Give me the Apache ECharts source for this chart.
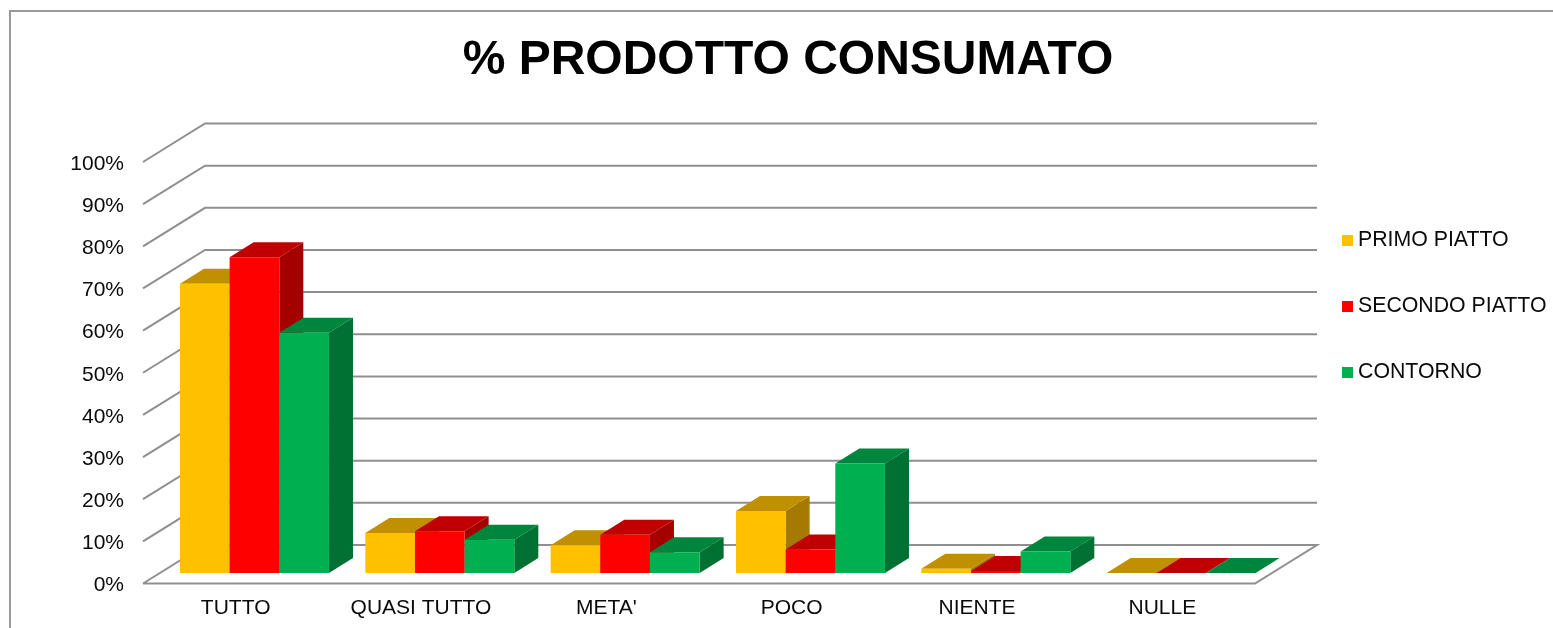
<!DOCTYPE html>
<html>
<head>
<meta charset="utf-8">
<title>% PRODOTTO CONSUMATO</title>
<script src="https://cdn.jsdelivr.net/npm/echarts@6/dist/echarts.min.js"></script>
<style>
    html, body { margin: 0; padding: 0; background: #fff; }
    #main { width: 1553px; height: 628px; }
</style>
</head>
<body>
<div id="main"></div>
<script>
const categories = ['TUTTO', 'QUASI TUTTO', "META'", 'POCO', 'NIENTE', 'NULLE'];
const primoPiatto = [68.6, 9.5, 6.6, 14.7, 1.0, 0];
const secondoPiatto = [74.9, 9.9, 9.1, 5.6, 0.5, 0];
const contorno = [57.0, 7.9, 4.9, 26.0, 5.1, 0];
const yTicks = [0, 10, 20, 30, 40, 50, 60, 70, 80, 90, 100];

// fake 3d: how far the back wall and the bars sit behind the front plane
const wallDepth = { x: 62, y: -38.5 };
const barShift = { x: 18.8, y: -10.5 };
const barDepth = { x: 24, y: -15 };
const barRatio = 0.268;
const gridColor = '#8f8f8f';
const textColor = '#0a0a0a';
const fontName = '"Liberation Sans", Arial, sans-serif';

function wallItem(params, api) {
    let box = params.coordSys;
    let y = api.coord([0, api.value(1)])[1];
    let points = [
        [box.x, y],
        [box.x + wallDepth.x, y + wallDepth.y],
        [box.x + box.width + wallDepth.x, y + wallDepth.y]
    ];
    // the floor also has a front edge and a right edge
    if (api.value(1) === 0) {
        points.push([box.x + box.width, y], [box.x, y]);
    }
    return {
        type: 'polyline',
        shape: { points: points },
        style: { stroke: gridColor, lineWidth: 2, fill: null }
    };
}

function barRenderer(seriesIndex, front, top, side) {
    return function (params, api) {
        let base = api.coord([api.value(0), 0]);
        let head = api.coord([api.value(0), api.value(1)]);
        let w = api.size([1, 0])[0] * barRatio;
        let x0 = base[0] + barShift.x + (seriesIndex - 1.5) * w;
        let x1 = x0 + w;
        let y0 = base[1] + barShift.y;
        let y1 = head[1] + barShift.y;
        let dx = barDepth.x;
        let dy = barDepth.y;
        return {
            type: 'group',
            children: [
                {
                    type: 'polygon',
                    shape: { points: [[x1, y0], [x1 + dx, y0 + dy], [x1 + dx, y1 + dy], [x1, y1]] },
                    style: { fill: side }
                },
                {
                    type: 'polygon',
                    shape: { points: [[x0, y1], [x0 + dx, y1 + dy], [x1 + dx, y1 + dy], [x1, y1]] },
                    style: { fill: top }
                },
                {
                    type: 'rect',
                    shape: { x: x0, y: y1, width: w, height: y0 - y1 },
                    style: { fill: front }
                }
            ]
        };
    };
}

function barSeries(name, values, index, front, top, side) {
    return {
        name: name,
        type: 'custom',
        coordinateSystem: 'cartesian2d',
        renderItem: barRenderer(index, front, top, side),
        itemStyle: { color: front },
        encode: { x: 0, y: 1 },
        data: values.map((v, i) => [i, v]),
        z: 3
    };
}

const option = {
    animation: false,
    backgroundColor: '#fff',
    title: {
        text: '% PRODOTTO CONSUMATO',
        left: 783,
        top: 32,
        textAlign: 'center',
        textStyle: { fontFamily: fontName, fontWeight: 'bold', fontSize: 48, color: '#000' }
    },
    legend: {
        data: ['PRIMO PIATTO', 'SECONDO PIATTO', 'CONTORNO'],
        orient: 'vertical',
        left: 1342,
        top: 230,
        padding: 0,
        itemWidth: 11,
        itemHeight: 11,
        itemGap: 45,
        icon: 'rect',
        selectedMode: false,
        textStyle: { fontFamily: fontName, fontSize: 21.3, color: textColor }
    },
    grid: { left: 143, top: 162, width: 1112, height: 421.5 },
    xAxis: {
        type: 'category',
        data: categories,
        axisLine: { show: false },
        axisTick: { show: false },
        axisLabel: { margin: 14, fontFamily: fontName, fontSize: 21, color: textColor, interval: 0 }
    },
    yAxis: {
        type: 'value',
        min: 0,
        max: 100,
        interval: 10,
        axisLine: { show: false },
        axisTick: { show: false },
        splitLine: { show: false },
        // top-aligned with a tiny line box, nudges the labels just under the tick
        axisLabel: { margin: 19, formatter: '{value}%', fontFamily: fontName, fontSize: 21, color: textColor, verticalAlign: 'top', lineHeight: 4 }
    },
    graphic: [{
        type: 'polyline',
        silent: true,
        shape: { points: [[10, 628], [10, 11], [1553, 11]] },
        style: { stroke: '#9a9a9a', lineWidth: 2, fill: null }
    }],
    series: [
        {
            type: 'custom',
            coordinateSystem: 'cartesian2d',
            renderItem: wallItem,
            silent: true,
            encode: { x: 0, y: 1 },
            data: yTicks.map(t => [0, t]),
            z: 1
        },
        barSeries('PRIMO PIATTO', primoPiatto, 0, '#FFC000', '#C09000', '#A47B00'),
        barSeries('SECONDO PIATTO', secondoPiatto, 1, '#FF0000', '#C00000', '#A40000'),
        barSeries('CONTORNO', contorno, 2, '#00B050', '#00853C', '#007033')
    ]
};

let plot = echarts.init(document.querySelector('#main'));
plot.setOption(option);
</script>
</body>
</html>
